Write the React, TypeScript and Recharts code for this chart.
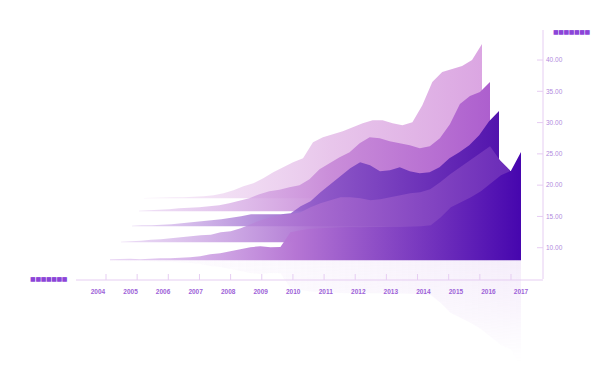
import React from 'react';
import { AreaChart, Area, XAxis, YAxis, ComposedChart, Label } from 'recharts';

const years = [2004, 2005, 2006, 2007, 2008, 2009, 2010, 2011, 2012, 2013, 2014, 2015, 2016, 2017];
const valueTicks = [10, 15, 20, 25, 30, 35, 40];
const axisNameX = '■■■■■■■';
const axisNameY = '■■■■■■■';

const frontSeries = [
  8.16, 8.2, 8.24, 8.16, 8.24, 8.32, 8.3, 8.4, 8.48, 8.64,
  8.96, 9.12, 9.44, 9.76, 10.08, 10.24, 10.08, 10.1, 12.48, 12.8,
  13.04, 13.12, 13.2, 13.28, 13.3, 13.28, 13.32, 13.3, 13.35, 13.35,
  13.4, 13.44, 13.6, 14.88, 16.48, 17.28, 18.08, 19.04, 20.32, 21.6,
  22.3, 25.28,
];
const secondSeries = [
  8.08, 8.16, 8.24, 8.4, 8.48, 8.64, 8.8, 8.96, 9.12, 9.2,
  9.6, 9.76, 10.24, 10.88, 11.52, 12.0, 12.32, 12.48, 12.8, 13.6,
  14.24, 14.72, 15.2, 15.2, 15.04, 14.72, 14.88, 15.2, 15.52, 15.84,
  16.0, 16.48, 17.6, 18.88, 20.0, 21.12, 22.24, 23.36, 21.12, 19.52,
];
const thirdSeries = [
  8.08, 8.16, 8.16, 8.24, 8.32, 8.48, 8.64, 8.8, 8.96, 9.12,
  9.36, 9.6, 9.92, 9.92, 9.92, 9.92, 10.08, 11.2, 12.0, 13.44,
  14.72, 16.0, 17.28, 18.24, 17.76, 16.8, 16.96, 17.44, 16.8, 16.48,
  16.64, 17.44, 18.88, 19.84, 20.96, 22.56, 24.8, 26.4,
];
const fourthSeries = [
  8.08, 8.16, 8.24, 8.32, 8.48, 8.56, 8.64, 8.8, 8.96, 9.28,
  9.68, 10.08, 10.72, 11.2, 11.44, 11.84, 12.16, 13.12, 14.72, 15.68,
  16.64, 17.44, 18.88, 19.84, 19.68, 19.2, 18.88, 18.56, 18.08, 18.4,
  19.68, 21.92, 25.12, 26.4, 27.04, 28.64,
];
const fifthSeries = [
  8.05, 8.08, 8.11, 8.16, 8.16, 8.24, 8.32, 8.48, 8.8, 9.28,
  9.92, 10.4, 11.2, 12.16, 12.96, 13.76, 14.4, 16.96, 17.76, 18.24,
  18.72, 19.36, 20.0, 20.48, 20.48, 20.0, 19.68, 20.16, 22.88, 26.56,
  28.16, 28.64, 29.12, 30.08, 32.64,
];

const BASE = 8;
const Y_DOMAIN: [number, number] = [5, 44.8];
const PLOT_H = 249;
const FONT = '"Liberation Sans", Arial, sans-serif';

type Stop = [number, string, number];

function Layer(props: { values: number[]; left: number; top: number; width: number; id: string; stops: Stop[] }) {
  const { values, left, top, width, id, stops } = props;
  const data = values.map((v, i) => ({ i, v }));
  return (
    <div style={{ position: 'absolute', left, top, width, height: PLOT_H }}>
      <AreaChart width={width} height={PLOT_H} data={data} margin={{ top: 0, right: 0, bottom: 0, left: 0 }}>
        <defs>
          <linearGradient id={id} x1="0" y1="0" x2="1" y2="0">
            {stops.map(([o, c, op]) => (
              <stop key={o} offset={o} stopColor={c} stopOpacity={op} />
            ))}
          </linearGradient>
        </defs>
        <XAxis dataKey="i" type="number" domain={[0, values.length - 1]} hide />
        <YAxis domain={Y_DOMAIN} hide allowDataOverflow />
        <Area
          type="linear"
          dataKey="v"
          baseValue={BASE}
          stroke="none"
          fill={`url(#${id})`}
          fillOpacity={1}
          isAnimationActive={false}
        />
      </AreaChart>
    </div>
  );
}

function Reflection() {
  const data = frontSeries.map((v, i) => ({ i, v }));
  const h = Math.round(((Y_DOMAIN[1] - BASE) / (Y_DOMAIN[1] - Y_DOMAIN[0])) * PLOT_H);
  const mask = 'linear-gradient(to bottom, rgba(0,0,0,1) 0%, rgba(0,0,0,0.55) 22%, rgba(0,0,0,0) 44%)';
  return (
    <div
      style={{
        position: 'absolute',
        left: 110,
        top: 260,
        width: 411,
        height: h,
        maskImage: mask,
        WebkitMaskImage: mask,
      }}
    >
      <AreaChart width={411} height={h} data={data} margin={{ top: 0, right: 0, bottom: 0, left: 0 }}>
        <defs>
          <linearGradient id="reflGrad" x1="0" y1="0" x2="1" y2="0">
            <stop offset={0} stopColor="#e0c8f2" stopOpacity={0.03} />
            <stop offset={0.45} stopColor="#dcc0f0" stopOpacity={0.12} />
            <stop offset={1} stopColor="#d8b8ee" stopOpacity={0.26} />
          </linearGradient>
        </defs>
        <XAxis dataKey="i" type="number" domain={[0, frontSeries.length - 1]} hide />
        <YAxis domain={[BASE, Y_DOMAIN[1]]} reversed hide allowDataOverflow />
        <Area
          type="linear"
          dataKey="v"
          baseValue={BASE}
          stroke="none"
          fill="url(#reflGrad)"
          fillOpacity={1}
          isAnimationActive={false}
        />
      </AreaChart>
    </div>
  );
}

const AXIS_COLOR = '#e6cdf2';

const TickMark = (p: any) => (
  <line x1={p.x} x2={p.x} y1={p.y} y2={p.y - 6} stroke={AXIS_COLOR} strokeWidth={1} />
);

const YearTick = (p: any) => (
  <text
    x={p.x}
    y={p.y + 15}
    textAnchor="middle"
    fontSize={6.5}
    fontWeight="bold"
    fill="#9d62d8"
    fontFamily={FONT}
  >
    {p.payload.value}
  </text>
);

const ValueTick = (p: any) => (
  <g>
    <line x1={p.x - 6} x2={p.x} y1={p.y} y2={p.y} stroke={AXIS_COLOR} strokeWidth={1} />
    <text x={p.x + 3} y={p.y + 2.3} fontSize={6.5} fill="#b28ade" fontFamily={FONT}>
      {Number(p.payload.value).toFixed(2)}
    </text>
  </g>
);

const NameX = (p: any) => {
  const vb = p.viewBox || { x: 76, y: 279 };
  return (
    <text
      x={vb.x - 9}
      y={vb.y + 0.5}
      textAnchor="end"
      fontSize={6}
      letterSpacing={-0.4}
      fill="#8c45d8"
      fontFamily='"DejaVu Sans", sans-serif'
    >
      {axisNameX}
    </text>
  );
};

const NameY = (p: any) => {
  const vb = p.viewBox || { x: 543, y: 30 };
  return (
    <text
      x={vb.x + 10}
      y={vb.y + 3.5}
      textAnchor="start"
      fontSize={6}
      letterSpacing={-0.4}
      fill="#8c45d8"
      fontFamily='"DejaVu Sans", sans-serif'
    >
      {axisNameY}
    </text>
  );
};

function AxisFrame() {
  const rows = years.map((year) => ({ year }));
  return (
    <div style={{ position: 'absolute', left: 0, top: 0 }}>
      <ComposedChart width={612} height={369} data={rows} margin={{ top: 30, right: 68, bottom: 88, left: 76 }}>
        <XAxis
          xAxisId="ticks"
          dataKey="year"
          type="number"
          domain={[2003.037, 2018.027]}
          ticks={years}
          allowDataOverflow
          height={1}
          tickSize={0}
          tickMargin={0}
          tickLine={false}
          interval={0}
          tick={TickMark}
          axisLine={{ stroke: AXIS_COLOR, strokeWidth: 1 }}
        >
          <Label content={NameX} />
        </XAxis>
        <XAxis
          xAxisId="labels"
          dataKey="year"
          type="number"
          domain={[2003.324, 2017.676]}
          ticks={years}
          allowDataOverflow
          height={1}
          tickSize={0}
          tickMargin={0}
          tickLine={false}
          interval={0}
          tick={YearTick}
          axisLine={false}
        />
        <YAxis
          orientation="right"
          type="number"
          domain={Y_DOMAIN}
          ticks={valueTicks}
          allowDataOverflow
          width={1}
          tickSize={0}
          tickMargin={0}
          tickLine={false}
          interval={0}
          tick={ValueTick}
          axisLine={{ stroke: AXIS_COLOR, strokeWidth: 1 }}
        >
          <Label content={NameY} />
        </YAxis>
      </ComposedChart>
    </div>
  );
}

const OFFSET = ((Y_DOMAIN[1] - BASE) / (Y_DOMAIN[1] - Y_DOMAIN[0])) * PLOT_H;

export default function App() {
  return (
    <div style={{ position: 'absolute', left: 0, top: 0, width: 612, height: 369, background: '#ffffff', overflow: 'hidden' }}>
      <Reflection />
      <AxisFrame />
      <Layer
        values={fifthSeries}
        left={144}
        top={198 - OFFSET}
        width={338}
        id="g5"
        stops={[
          [0, '#f1def5', 0.55],
          [0.55, '#e7c3ea', 0.95],
          [1, '#dba6e2', 1],
        ]}
      />
      <Layer
        values={fourthSeries}
        left={139}
        top={211 - OFFSET}
        width={351}
        id="g4"
        stops={[
          [0, '#e4c9f0', 0.55],
          [0.55, '#c88ad8', 0.95],
          [1, '#ad5fce', 1],
        ]}
      />
      <Layer
        values={thirdSeries}
        left={132}
        top={226 - OFFSET}
        width={367}
        id="g3"
        stops={[
          [0, '#d6b8ec', 0.55],
          [0.5, '#8e58c8', 0.95],
          [1, '#5214ad', 1],
        ]}
      />
      <Layer
        values={secondSeries}
        left={121}
        top={242 - OFFSET}
        width={389}
        id="g2"
        stops={[
          [0, '#dcc0ee', 0.55],
          [0.5, '#a86bcf', 0.95],
          [1, '#6a2bb8', 1],
        ]}
      />
      <Layer
        values={frontSeries}
        left={110}
        top={260 - OFFSET}
        width={411}
        id="g1"
        stops={[
          [0, '#dcbdee', 0.6],
          [0.45, '#b676d4', 1],
          [1, '#4606ae', 1],
        ]}
      />
    </div>
  );
}
